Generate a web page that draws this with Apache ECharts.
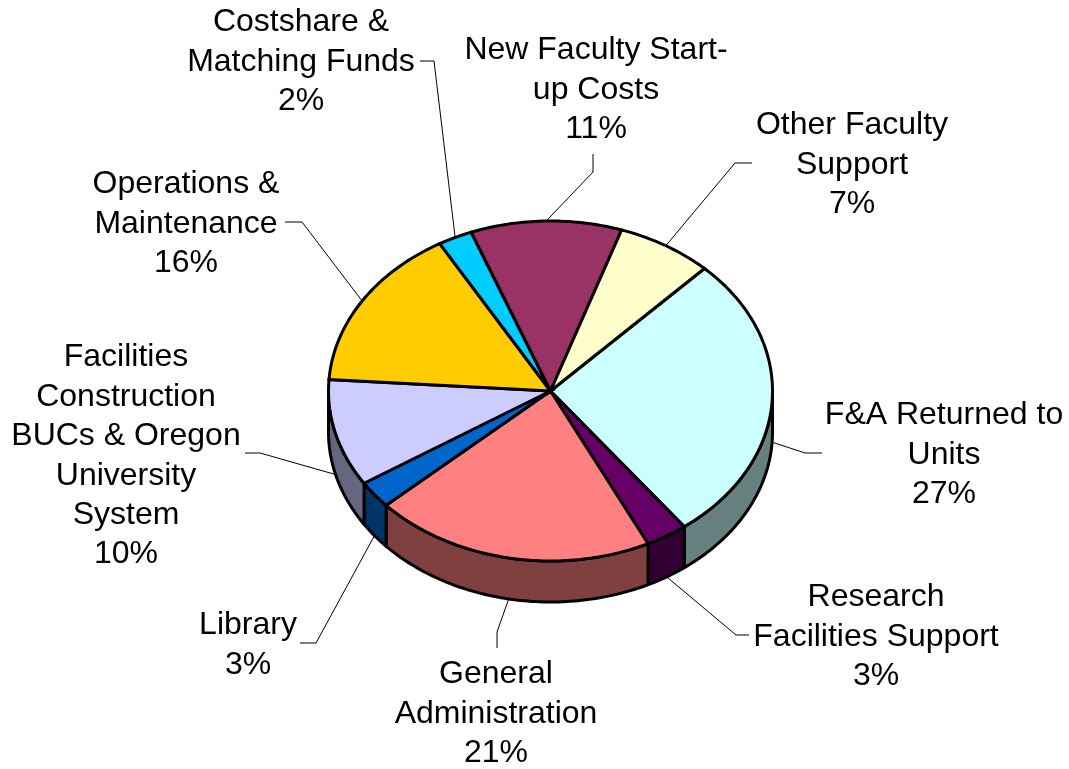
<!DOCTYPE html>
<html>
<head>
<meta charset="utf-8">
<style>html,body{margin:0;padding:0;background:#fff}#c{width:1069px;height:769px}</style>
<script src="https://cdn.jsdelivr.net/npm/echarts@6/dist/echarts.min.js"></script>
</head>
<body>
<div id="c"></div>
<script>
// Slices run clockwise starting at the Other Faculty / F&A boundary
const categories = [
  'F&A Returned to\nUnits',
  'Research\nFacilities Support',
  'General\nAdministration',
  'Library',
  'Facilities\nConstruction\nBUCs & Oregon\nUniversity\nSystem',
  'Operations &\nMaintenance',
  'Costshare &\nMatching Funds',
  'New Faculty Start-\nup Costs',
  'Other Faculty\nSupport'
];
const shares = [27.5, 3.05, 20.5, 2.6, 10.2, 15.6, 2.5, 11, 7];
const percentLabels = ['27%', '3%', '21%', '3%', '10%', '16%', '2%', '11%', '7%'];
const topColors = ['#CCFFFF', '#660066', '#FF8080', '#0066CC', '#CCCCFF', '#FFCC00', '#00CCFF', '#993366', '#FFFFCC'];
const wallColors = ['#668080', '#330033', '#804040', '#003366', '#666680', '#806600', '#006680', '#4D1A33', '#808066'];
// Label layout: text centre and the leader elbow/end
const labelCentres = [[944,455],[876,637],[496,714],[248,645],[126,456],[186,224],[301,62],[596,90],[852,165]];
const leaderPaths = [
  [[805,453],[822,453]],
  [[736,635],[749,635]],
  [[497,632],[497,648]],
  [[316,643],[300,643]],
  [[260,453],[245,453]],
  [[302,222],[285,222]],
  [[434,61],[420,61]],
  [[593,172],[593,154]],
  [[735,163],[752,163]]
];
const pieGeometry = { cx: 550.5, cy: 391, rx: 222, ry: 170, depth: 41, startDeg: 43.9 };

const total = shares.reduce((a, b) => a + b, 0);
const g = pieGeometry;
const rad = d => d * Math.PI / 180;
const pt = (deg, dy) => [g.cx + g.rx * Math.sin(rad(deg)), g.cy - g.ry * Math.cos(rad(deg)) + (dy || 0)];
function arc(a, b, dy) {
  const n = Math.max(2, Math.ceil(Math.abs(b - a)));
  const out = [];
  for (let i = 0; i <= n; i++) out.push(pt(a + (b - a) * i / n, dy));
  return out;
}
function renderSlice(params, api) {
  const i = params.dataIndex;
  const before = shares.slice(0, i).reduce((a, b) => a + b, 0);
  const a = g.startDeg + before / total * 360;
  const b = a + api.value(0) / total * 360;
  const mid = (a + b) / 2;
  const children = [];
  // wall: only the part of the slice facing the viewer (90..270 degrees)
  const wa = Math.max(a, 90), wb = Math.min(b, 270);
  if (wb > wa) {
    const top = arc(wa, wb, 0), bottom = arc(wa, wb, g.depth).reverse();
    children.push({
      type: 'polygon', z2: 1,
      shape: { points: top.concat(bottom) },
      style: { fill: wallColors[i], stroke: '#000', lineWidth: 3, lineJoin: 'round' }
    });
  }
  // top face
  children.push({
    type: 'polygon', z2: 2,
    shape: { points: [[g.cx, g.cy]].concat(arc(a, b, 0)) },
    style: { fill: topColors[i], stroke: '#000', lineWidth: 3, lineJoin: 'miter' }
  });
  // leader line
  const m = ((mid % 360) + 360) % 360;
  const start = pt(mid, m > 90 && m < 270 ? g.depth : 0);
  children.push({
    type: 'polyline', z2: 0,
    shape: { points: [start].concat(leaderPaths[i]) },
    style: { fill: 'none', stroke: '#000', lineWidth: 1 }
  });
  // label
  children.push({
    type: 'text', z2: 3,
    style: {
      text: categories[i] + '\n' + percentLabels[i],
      x: labelCentres[i][0], y: labelCentres[i][1],
      align: 'center', verticalAlign: 'middle',
      fontFamily: '"Liberation Sans", Arial, sans-serif',
      fontSize: 32, lineHeight: 39.4, fill: '#000'
    }
  });
  return { type: 'group', children };
}
const chart = echarts.init(document.getElementById('c'), null, { renderer: 'canvas' });
chart.setOption({
  backgroundColor: '#fff',
  animation: false,
  series: [{
    type: 'custom',
    coordinateSystem: 'none',
    silent: true,
    renderItem: renderSlice,
    data: shares.map((v, i) => ({ name: categories[i], value: [v] }))
  }]
});
</script>
</body>
</html>
